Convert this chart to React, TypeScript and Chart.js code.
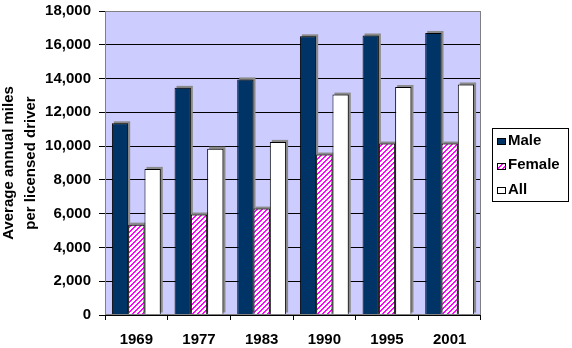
import React, { useEffect, useRef } from "react";
import { Chart, registerables } from "chart.js";

Chart.register(...registerables);

const categories = ["1969", "1977", "1983", "1990", "1995", "2001"];
const maleValues = [11350, 13450, 13950, 16500, 16550, 16700];
const femaleValues = [5350, 5950, 6300, 9500, 10150, 10150];
const allValues = [8650, 9850, 10250, 13050, 13500, 13650];
const seriesNames = ["Male", "Female", "All"];
const yMin = 0;
const yMax = 18000;
const yStep = 2000;
const axisTitle = ["Average annual miles", "per licensed driver"];

const FONT_FAMILY = '"Liberation Sans", Arial, sans-serif';
const FONT_SIZE = 15;

function makeStripePattern(): CanvasPattern | string {
  const n = 5;
  const k = 2;
  const c = document.createElement("canvas");
  c.width = n;
  c.height = n;
  const g = c.getContext("2d");
  if (!g) return "#ff00ff";
  const img = g.createImageData(n, n);
  for (let y = 0; y < n; y++) {
    for (let x = 0; x < n; x++) {
      const i = (y * n + x) * 4;
      const on = (x + y) % n < k;
      img.data[i] = 255;
      img.data[i + 1] = on ? 0 : 255;
      img.data[i + 2] = 255;
      img.data[i + 3] = 255;
    }
  }
  g.putImageData(img, 0, 0);
  const p = g.createPattern(c, "repeat");
  return p || "#ff00ff";
}

const plotBgPlugin = {
  id: "plotBg",
  beforeDraw(chart: any) {
    const { ctx, chartArea } = chart;
    ctx.save();
    ctx.fillStyle = "#CCCCFF";
    ctx.fillRect(chartArea.left, chartArea.top, chartArea.width, chartArea.height);
    ctx.restore();
  },
};

const shadowPlugin = {
  id: "barShadow",
  beforeDatasetsDraw(chart: any) {
    const { ctx, chartArea } = chart;
    ctx.save();
    ctx.beginPath();
    ctx.rect(chartArea.left, chartArea.top, chartArea.width, chartArea.height);
    ctx.clip();
    ctx.fillStyle = "#8a8a8a";
    chart.data.datasets.forEach((_: any, i: number) => {
      const meta = chart.getDatasetMeta(i);
      meta.data.forEach((el: any) => {
        const { x, y, base, width } = el.getProps(["x", "y", "base", "width"], true);
        ctx.fillRect(x - width / 2 + 2, y - 2, width, base - y);
      });
    });
    ctx.restore();
  },
};

const plotBorderPlugin = {
  id: "plotBorder",
  afterDatasetsDraw(chart: any) {
    const { ctx, chartArea } = chart;
    ctx.save();
    ctx.strokeStyle = "#808080";
    ctx.lineWidth = 1;
    const l = Math.round(chartArea.left) + 0.5;
    const t = Math.round(chartArea.top) + 0.5;
    const r = Math.round(chartArea.right) - 0.5;
    const b = Math.round(chartArea.bottom) - 0.5;
    ctx.strokeRect(l, t, r - l, b - t);
    ctx.restore();
  },
};

const boxLegendPlugin = {
  id: "boxLegend",
  afterDraw(chart: any) {
    const { ctx, chartArea } = chart;
    const left = Math.round(chartArea.right) + 11;
    const right = chart.width - 3;
    const cy = (chartArea.top + chartArea.bottom) / 2 + 2;
    const rowH = 24.5;
    const n = chart.data.datasets.length;
    const h = 74;
    const top = Math.round(cy - h / 2);
    ctx.save();
    ctx.fillStyle = "#ffffff";
    ctx.fillRect(left, top, right - left, h);
    ctx.strokeStyle = "#000000";
    ctx.lineWidth = 1;
    ctx.strokeRect(left + 0.5, top + 0.5, right - left - 1, h - 1);
    ctx.font = `bold ${FONT_SIZE}px ${FONT_FAMILY}`;
    ctx.textBaseline = "middle";
    ctx.textAlign = "left";
    chart.data.datasets.forEach((ds: any, i: number) => {
      const yc = cy + (i - (n - 1) / 2) * rowH;
      const sx = left + 5;
      const sy = Math.round(yc - 2.5);
      ctx.fillStyle = ds.backgroundColor;
      ctx.fillRect(sx, sy, 9, 7);
      ctx.strokeStyle = "#000000";
      ctx.strokeRect(sx + 0.5, sy + 0.5, 8, 6);
      ctx.fillStyle = "#000000";
      ctx.fillText(ds.label, left + 16, yc);
    });
    ctx.restore();
  },
};

export default function App() {
  const canvasRef = useRef<HTMLCanvasElement | null>(null);

  useEffect(() => {
    document.body.style.margin = "0";
    const canvas = canvasRef.current;
    if (!canvas) return;
    const font = { family: FONT_FAMILY, size: FONT_SIZE, weight: "bold" as const };
    const pattern = makeStripePattern();
    const chart = new Chart(canvas, {
      type: "bar",
      data: {
        labels: categories,
        datasets: [
          {
            label: seriesNames[0],
            data: maleValues,
            backgroundColor: "#003366",
            borderColor: "#000000",
            borderWidth: 1,
          },
          {
            label: seriesNames[1],
            data: femaleValues,
            backgroundColor: pattern as any,
            borderColor: "#000000",
            borderWidth: 1,
          },
          {
            label: seriesNames[2],
            data: allValues,
            backgroundColor: "#FFFFFF",
            borderColor: "#000000",
            borderWidth: 1,
          },
        ],
      },
      options: {
        responsive: false,
        animation: false,
        devicePixelRatio: 1,
        layout: { padding: { left: 0, top: 11, right: 91, bottom: 0 } },
        datasets: {
          bar: { categoryPercentage: 0.78, barPercentage: 1.0 },
        },
        plugins: {
          legend: { display: false },
          tooltip: { enabled: false },
          title: { display: false },
        },
        scales: {
          x: {
            offset: true,
            grid: {
              offset: true,
              drawOnChartArea: false,
              drawTicks: true,
              tickLength: 5,
              color: "#000000",
            },
            border: { display: false },
            ticks: { color: "#000000", font, padding: 11, maxRotation: 0, autoSkip: false },
            afterFit: (s: any) => {
              s.height = 33;
              s.paddingLeft = 0;
              s.paddingRight = 0;
              s.paddingTop = 0;
              s.paddingBottom = 0;
            },
          },
          y: {
            min: yMin,
            max: yMax,
            ticks: {
              stepSize: yStep,
              color: "#000000",
              font,
              padding: 8,
              callback: (v: any) => Number(v).toLocaleString("en-US"),
            },
            grid: { color: "#000000", tickLength: 6, lineWidth: 1 },
            border: { display: false },
            title: {
              display: true,
              text: axisTitle,
              color: "#000000",
              font: { ...font, lineHeight: 1.45 },
              padding: { top: -2, bottom: 0 },
            },
            afterFit: (s: any) => {
              s.width = 105;
              s.paddingTop = 0;
              s.paddingBottom = 0;
              s.paddingLeft = 0;
              s.paddingRight = 0;
            },
          },
        },
      },
      plugins: [plotBgPlugin, shadowPlugin, plotBorderPlugin, boxLegendPlugin],
    });
    return () => {
      chart.destroy();
    };
  }, []);

  return (
    <div style={{ width: 572, height: 348 }}>
      <canvas ref={canvasRef} width={572} height={348} style={{ width: 572, height: 348, display: "block" }} />
    </div>
  );
}
